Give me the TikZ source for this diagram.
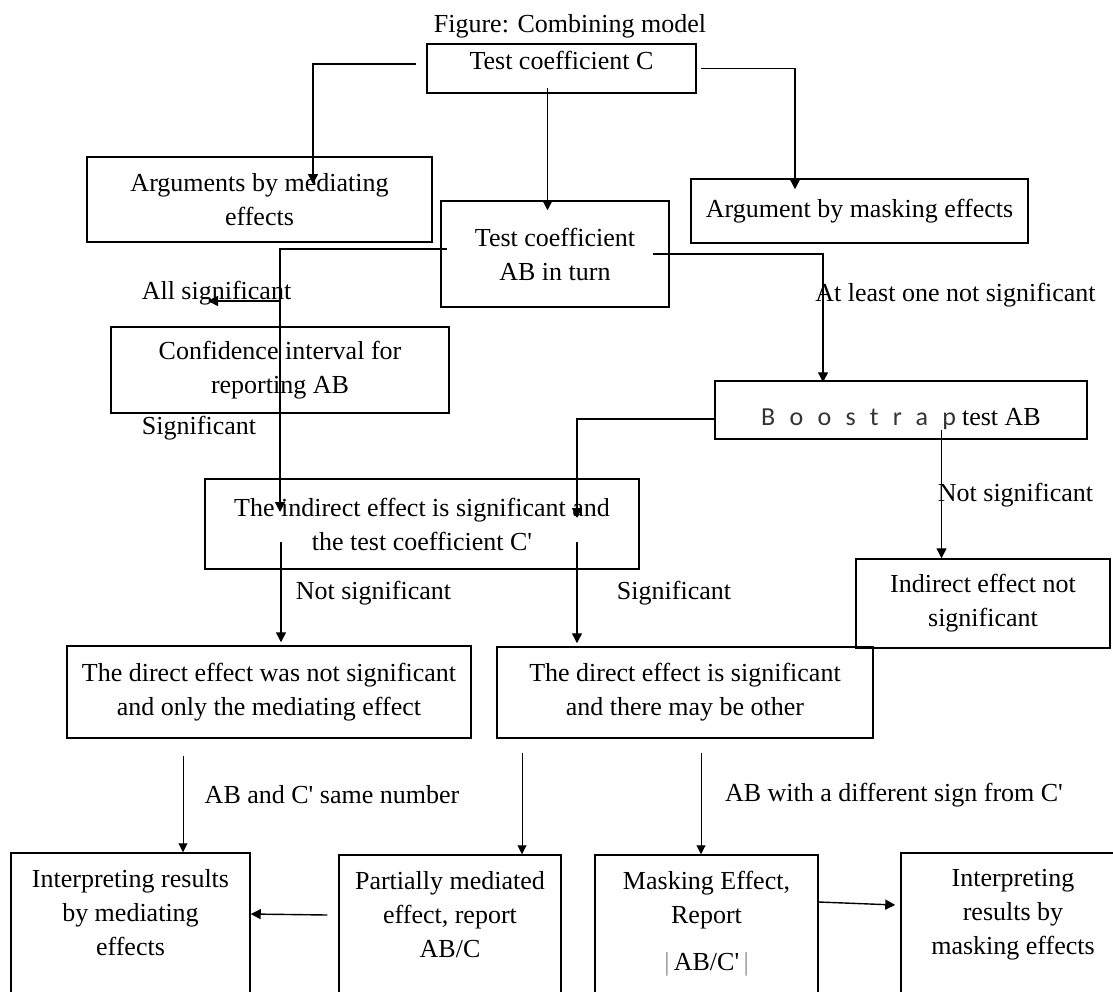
\documentclass[tikz,border=0pt]{standalone}
\usepackage{fontspec}
\setmainfont{Liberation Serif}
\newfontfamily\bootfont[LetterSpace=55]{Carlito}
\usetikzlibrary{arrows.meta}
\tikzset{>={Triangle[length=5pt,width=5pt]},every node/.style={font=\fontsize{13}{17}\selectfont},
  box/.style={draw,line width=.75pt,align=center,inner sep=0pt},
  flow/.style={line width=.7pt,->},thinflow/.style={line width=.5pt,-{Triangle[length=4.5pt,width=4.5pt]}},
  lbl/.style={inner sep=0pt}}

\begin{document}
\begin{tikzpicture}[x=.5pt,y=-.5pt]
\useasboundingbox (0,0) rectangle (1113,991);
\node[lbl] (title) at (570,26) {Figure: Combining model};
% boxes
\node[box,minimum width=134.5pt,minimum height=24.5pt,text depth=8.5pt] (cbox) at (561.5,68.5) {Test coefficient C};
\node[box,minimum width=172.5pt,minimum height=42.5pt] (argmed) at (259.5,199.5) {Arguments by mediating\\effects};
\node[box,minimum width=168.5pt,minimum height=32pt] (argmask) at (859.5,211) {Argument by masking effects};
\node[box,minimum width=114pt,minimum height=53pt] (abbox) at (555,254) {Test coefficient\\AB in turn};
\node[box,minimum width=169pt,minimum height=43pt] (confbox) at (280,370) {Confidence interval for\\reporting AB};
\node[box,minimum width=186pt,minimum height=29pt,text height=18pt] (bootbox) at (901,410)
  {{\bootfont\color{black!80}Boostrap}\hspace{3pt}test AB};
\node[box,minimum width=217pt,minimum height=45pt] (indsig) at (422,524) {The indirect effect is significant and\\the test coefficient C\textquotesingle};
\node[box,minimum width=127pt,minimum height=44.5pt] (indnot) at (983,603.5) {Indirect effect not\\significant};
\node[box,minimum width=202pt,minimum height=46pt] (dirnot) at (269,692) {The direct effect was not significant\\and only the mediating effect};
\node[box,minimum width=188pt,minimum height=45.5pt] (dirsig) at (685,692.5) {The direct effect is significant\\and there may be other};
\node[box,minimum width=119.5pt,minimum height=76pt] (intmed) at (130.5,929) {Interpreting results\\by mediating\\effects\\ \phantom{x}};
\node[box,minimum width=111pt,minimum height=76pt] (partial) at (450,931) {Partially mediated\\effect, report\\AB/C\\ \phantom{x}};
\node[box,minimum width=111.5pt,minimum height=83pt] (mask) at (706.5,938)
  {Masking Effect,\\Report\\[6.5pt]\textcolor{black!45}{|}\,AB/C\textquotesingle\,\textcolor{black!45}{|}\\ \phantom{x}};
\node[box,minimum width=112pt,minimum height=76pt] (intmask) at (1013,929) {Interpreting\\results by\\masking effects\\ \phantom{x}};
% labels
\node[lbl] (lblallsig) at (216.5,293) {All significant};
\node[lbl] (lblsigleft) at (199,428) {Significant};
\node[lbl] (lblatleast) at (955.5,295) {At least one not significant};
\node[lbl] (lblnotright) at (1015.5,495) {Not significant};
\node[lbl] (lblnotmid) at (373.5,593) {Not significant};
\node[lbl] (lblsigmid) at (674,593) {Significant};
\node[lbl] (lblsame) at (332,795) {AB and C\textquotesingle{} same number};
\node[lbl] (lbldiff) at (894,795) {AB with a different sign from C\textquotesingle};
% connectors
\draw[flow] ([xshift=-5pt,yshift=2.25pt]cbox.west) -| ([xshift=26.75pt,yshift=7.75pt]argmed.center);
\draw[flow] ([xshift=-7pt,yshift=3pt]cbox.south) -- ([xshift=-3.75pt,yshift=-5pt]abbox.north);
\draw[flow] ([xshift=2pt]cbox.east) -| ([xshift=-32.25pt,yshift=-5.5pt]argmask.north);
\draw[flow] ([xshift=3.5pt,yshift=2.5pt]abbox.west) -| ([xshift=-71pt,yshift=6pt]indsig.center);
\coordinate (allsplit) at (280,301);
\coordinate (conftip) at (208,301);
\draw[flow] (allsplit) -- (conftip);
\draw[flow] ([xshift=-8.5pt]abbox.east) -| ([xshift=-39pt,yshift=-1pt]bootbox.north);
\draw[flow] ([yshift=-4.5pt]bootbox.west) -| ([xshift=77.5pt,yshift=3pt]indsig.center);
\draw[flow] ([xshift=20.25pt,yshift=-10pt]bootbox.center) -- ([xshift=-20.75pt]indnot.north);
\draw[flow] ([xshift=-70.5pt,yshift=-9pt]indsig.center) -- ([xshift=6pt,yshift=1.5pt]dirnot.north);
\draw[flow] ([xshift=77.5pt,yshift=-9pt]indsig.center) -- ([xshift=-54pt,yshift=1.5pt]dirsig.north);
\draw[thinflow] ([xshift=-43pt,yshift=-8.5pt]dirnot.south) -- ([xshift=26.25pt]intmed.north);
\draw[thinflow] ([xshift=-81.5pt,yshift=-7pt]dirsig.south) -- ([xshift=36pt]partial.north);
\draw[thinflow] ([xshift=8pt,yshift=-7pt]dirsig.south) -- ([xshift=-2.75pt]mask.north);
\draw[flow] ([xshift=-5.5pt,yshift=8pt]partial.west) -- ([yshift=7.5pt]intmed.east);
\draw[flow] ([yshift=18pt]mask.east) -- ([xshift=-2.5pt,yshift=12pt]intmask.west);
\end{tikzpicture}
\end{document}
